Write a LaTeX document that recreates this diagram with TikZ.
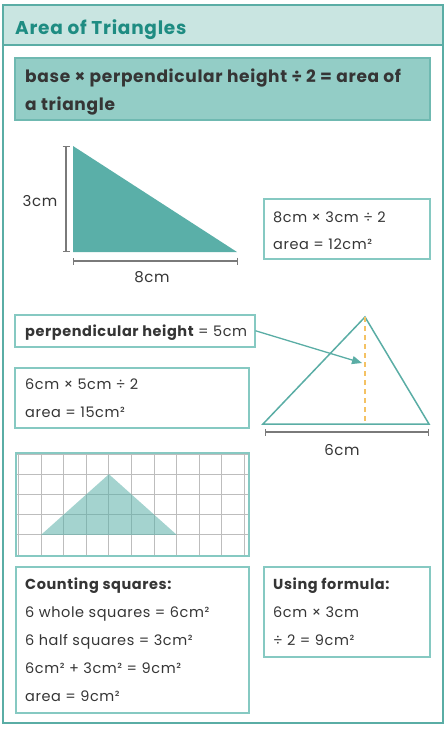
\documentclass[tikz,border=0pt]{standalone}
\usepackage{fontspec}
\setmainfont{Poppins}[LetterSpace=4]
\usetikzlibrary{arrows.meta}
\definecolor{frameteal}{HTML}{5AADA5}
\definecolor{headfill}{HTML}{C9E5E1}
\definecolor{titleteal}{HTML}{1E8C82}
\definecolor{rulefill}{HTML}{93CDC6}
\definecolor{ruleline}{HTML}{6FB9B1}
\definecolor{trifill}{HTML}{5AAFA8}
\definecolor{boxteal}{HTML}{86C9C2}
\definecolor{dimgray}{HTML}{7A7A7A}
\definecolor{dashorange}{HTML}{F4C264}
\definecolor{gridgray}{HTML}{BDBDBD}
\definecolor{ink}{HTML}{353535}
\tikzset{
  boxline/.style={draw=boxteal,line width=1.5pt,inner sep=0pt,anchor=north west},
  txt/.style={anchor=base west,inner sep=0pt,text=ink,font=\fontsize{14.5}{18}\selectfont},
  lbl/.style={inner sep=0pt,text=ink,font=\fontsize{15}{18}\selectfont},
  dim/.style={draw=dimgray,line width=1.2pt,{Bar[width=7pt]}-{Bar[width=7pt]}},
  gridline/.style={draw=gridgray,line width=.9pt},
}
\begin{document}
\begin{tikzpicture}[x=1pt,y=-1pt]
  \useasboundingbox (0,0) rectangle (447,729);
  % frame and header
  \fill[headfill] (3,5) rectangle (443,45);
  \draw[frameteal,line width=2pt] (3,5) rectangle (443,723);
  \draw[frameteal,line width=2pt] (3,45) -- (443,45);
  \node[anchor=base west,inner sep=0pt,text=titleteal,font=\bfseries\fontsize{18.5}{22}\selectfont] (title) at (15,34) {Area of Triangles};
  % rule
  \node[boxline,draw=ruleline,fill=rulefill,minimum width=415pt,minimum height=62pt] (rule) at (14,57) {};
  \node[txt,font=\bfseries\fontsize{17}{20}\selectfont] (rule1) at (25,82) {base × perpendicular height ÷ 2 = area of};
  \node[txt,font=\bfseries\fontsize{17}{20}\selectfont] (rule2) at (25,110) {a triangle};
  % right-angled triangle
  \coordinate (rA) at (73,146);
  \coordinate (rB) at (73,252);
  \coordinate (rC) at (237,252);
  \fill[trifill] (rA) -- (rB) -- (rC) -- cycle;
  \draw[dim] ([xshift=-7pt]rA) -- ([xshift=-7pt]rB);
  \draw[dim] ([yshift=-9pt]rB) -- ([yshift=-9pt,xshift=1pt]rC);
  \node[lbl] (hlab) at (40,201) {3cm};
  \node[lbl] (blab) at (152,277) {8cm};
  \node[boxline,minimum width=166pt,minimum height=60pt] (calcA) at (263,198) {};
  \node[txt] (calcA1) at (273,222) {8cm × 3cm ÷ 2};
  \node[txt] (calcA2) at (273,249) {area = 12cm²};
  % second triangle
  \node[boxline,minimum width=240pt,minimum height=32pt] (perp) at (14,314) {};
  \node[txt] (perp1) at (25,336) {{\bfseries perpendicular height} = 5cm};
  \node[boxline,minimum width=234pt,minimum height=60pt] (calcB) at (14,367) {};
  \node[txt] (calcB1) at (25,389) {6cm × 5cm ÷ 2};
  \node[txt] (calcB2) at (25,417) {area = 15cm²};
  \coordinate (tA) at (365,317);
  \coordinate (tB) at (263,424);
  \coordinate (tC) at (429,424);
  \coordinate (tH) at (365,424);
  \draw[frameteal,line width=1.5pt,line join=miter] (tA) -- (tB) -- (tC) -- cycle;
  \draw[dashorange,line width=1.5pt,dash pattern=on 5pt off 4pt] (tA) -- (tH);
  \coordinate (hgt) at (362,363);
  \draw[frameteal,line width=1.3pt,-{Triangle[length=10pt,width=8pt]}] (perp.east) -- (hgt);
  \draw[dim] ([xshift=2pt,yshift=-8pt]tB) -- ([yshift=-8pt]tC);
  \node[lbl] (clab) at (342,450) {6cm};
  % squared grid
  \foreach \i in {0,...,10}
    \draw[gridline] (18.5+22.6*\i,452) -- (18.5+22.6*\i,555);
  \foreach \j in {0,...,5}
    \draw[gridline] (15,454+20.2*\j) -- (248,454+20.2*\j);
  \fill[trifill,opacity=.55] (108.9,474.2) -- (41.1,534.8) -- (176.7,534.8) -- cycle;
  \node[boxline,minimum width=233pt,minimum height=103pt] (grid) at (15,452) {};
  % bottom boxes
  \node[boxline,minimum width=233pt,minimum height=146pt] (count) at (15,566) {};
  \node[txt,font=\bfseries\fontsize{14.5}{18}\selectfont] (count0) at (25,589) {Counting squares:};
  \foreach \t [count=\i] in {{6 whole squares = 6cm²},{6 half squares = 3cm²},{6cm² + 3cm² = 9cm²},{area = 9cm²}}
    \node[txt] (count\i) at (25,589+28*\i) {\t};
  \node[boxline,minimum width=166pt,minimum height=90pt] (formula) at (263,566) {};
  \node[txt,font=\bfseries\fontsize{14.5}{18}\selectfont] (formula0) at (273,589) {Using formula:};
  \node[txt] (formula1) at (273,617) {6cm × 3cm};
  \node[txt] (formula2) at (273,645) {÷ 2 = 9cm²};
\end{tikzpicture}
\end{document}
